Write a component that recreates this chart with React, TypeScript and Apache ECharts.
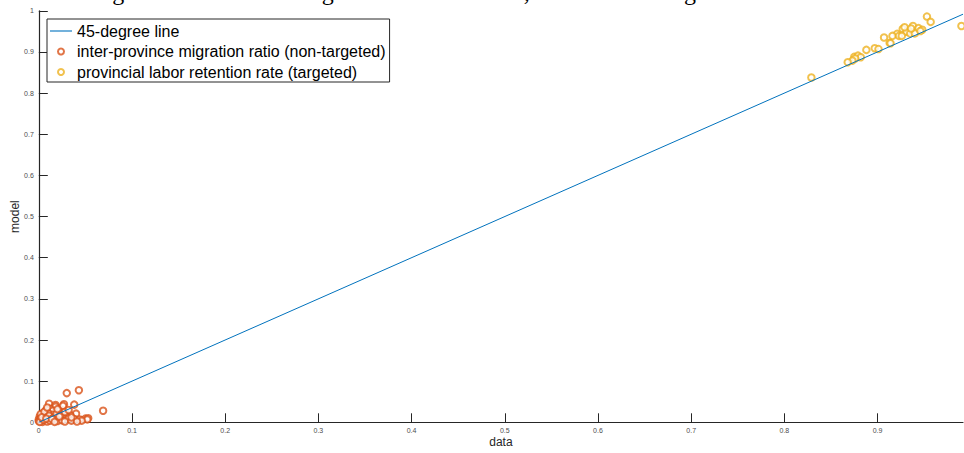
import React, { useEffect, useRef } from "react";
import * as echarts from "echarts";

const titleText = "Testing the model on the targeted moments it fits, as well as untargeted moments";
const xTicks = [0, 0.1, 0.2, 0.3, 0.4, 0.5, 0.6, 0.7, 0.8, 0.9];
const yTicks = [0, 0.1, 0.2, 0.3, 0.4, 0.5, 0.6, 0.7, 0.8, 0.9, 1];
const axisMax = 0.9917;

const lineName = "45-degree line";
const nonTargetedName = "inter-province migration ratio (non-targeted)";
const targetedName = "provincial labor retention rate (targeted)";

const lineData: number[][] = [
  [0, 0],
  [0.9917, 0.9917],
];

const nonTargeted: number[][] = [
  [0.030, 0.071], [0.043, 0.078], [0.011, 0.045], [0.018, 0.042], [0.018, 0.038],
  [0.027, 0.044], [0.026, 0.040], [0.038, 0.043], [0.069, 0.028], [0.012, 0.033],
  [0.008, 0.030], [0.015, 0.028], [0.021, 0.028], [0.005, 0.023], [0.004, 0.018],
  [0.001, 0.014], [0.000, 0.007], [0.000, 0.003], [0.040, 0.021], [0.034, 0.017],
  [0.030, 0.014], [0.026, 0.012], [0.022, 0.009], [0.032, 0.009], [0.038, 0.008],
  [0.044, 0.007], [0.050, 0.009], [0.053, 0.010], [0.016, 0.006], [0.010, 0.007],
  [0.006, 0.010], [0.003, 0.004], [0.018, 0.015], [0.014, 0.018], [0.008, 0.018],
  [0.052, 0.007], [0.046, 0.004], [0.010, 0.022], [0.013, 0.012], [0.007, 0.013],
  [0.002, 0.009], [0.004, 0.001], [0.009, 0.002], [0.012, 0.004], [0.020, 0.003],
  [0.025, 0.005], [0.028, 0.002], [0.035, 0.004], [0.041, 0.002], [0.002, 0.020],
  [0.006, 0.026], [0.011, 0.016], [0.016, 0.011], [0.019, 0.021], [0.024, 0.019],
  [0.028, 0.025], [0.001, 0.001], [0.005, 0.006], [0.003, 0.012], [0.008, 0.009],
  [0.014, 0.008], [0.017, 0.001], [0.022, 0.014], [0.032, 0.030], [0.035, 0.012],
  [0.020, 0.032], [0.009, 0.036],
];

const targeted: number[][] = [
  [0.953, 0.986], [0.957, 0.973], [0.990, 0.963], [0.938, 0.963], [0.944, 0.958],
  [0.927, 0.956], [0.948, 0.954], [0.933, 0.951], [0.931, 0.949], [0.921, 0.944],
  [0.916, 0.939], [0.923, 0.939], [0.935, 0.945], [0.940, 0.945], [0.926, 0.939],
  [0.907, 0.935], [0.913, 0.922], [0.914, 0.921], [0.897, 0.909], [0.901, 0.907],
  [0.888, 0.905], [0.875, 0.888], [0.879, 0.891], [0.882, 0.887], [0.876, 0.884],
  [0.873, 0.879], [0.868, 0.875], [0.829, 0.838], [0.946, 0.951], [0.929, 0.960],
  [0.936, 0.957],
];

const axisColor = "#262626";
const labelColor = "#4d4d4d";
const sans = "Liberation Sans, Arial, Helvetica, sans-serif";

export default function App() {
  const ref = useRef<HTMLDivElement>(null);
  useEffect(() => {
    if (!ref.current) return;
    const chart = echarts.init(ref.current, null, { renderer: "svg" });
    chart.setOption({
      animation: false,
      backgroundColor: "#ffffff",
      textStyle: { fontFamily: sans },
      grid: {
        left: 38.8,
        right: 1,
        top: 10.8,
        bottom: 30.7,
        containLabel: false,
        outerBoundsMode: "none",
      },
      graphic: [
        {
          type: "text",
          x: 54,
          y: 4,
          silent: true,
          z: 0,
          style: {
            text: titleText,
            font: "24px 'Liberation Serif', 'Times New Roman', serif",
            fill: "#000000",
            verticalAlign: "bottom",
          },
        },
      ],
      legend: {
        orient: "vertical",
        left: 47,
        top: 19,
        padding: [4, 4, 2, 3],
        itemWidth: 22,
        itemHeight: 6,
        itemGap: 4.5,
        borderColor: axisColor,
        borderWidth: 1,
        backgroundColor: "#ffffff",
        textStyle: { fontSize: 16, color: "#000000", fontFamily: sans },
        data: [
          { name: lineName, icon: "path://M0 0H100V5H0Z" },
          { name: nonTargetedName, icon: "emptyCircle", itemStyle: { borderWidth: 0.8 } },
          { name: targetedName, icon: "emptyCircle", itemStyle: { borderWidth: 0.8 } },
        ],
      },
      xAxis: {
        type: "value",
        min: 0,
        max: axisMax,
        interval: 0.1,
        name: "data",
        nameLocation: "middle",
        nameGap: 14,
        nameMoveOverlap: false,
        nameTextStyle: { fontSize: 12, color: axisColor, fontFamily: sans },
        axisLine: { show: true, lineStyle: { color: axisColor, width: 1.2 } },
        axisTick: {
          show: true,
          inside: true,
          length: 9,
          customValues: xTicks,
          lineStyle: { color: axisColor, width: 1 },
        },
        axisLabel: {
          customValues: xTicks,
          fontSize: 7,
          color: labelColor,
          margin: 5,
          formatter: (v: number) => String(Math.round(v * 10) / 10),
        },
        splitLine: { show: false },
      },
      yAxis: {
        type: "value",
        min: 0,
        max: 1,
        interval: 0.1,
        name: "model",
        nameLocation: "middle",
        nameGap: 18,
        nameMoveOverlap: false,
        nameTextStyle: { fontSize: 12, color: axisColor, fontFamily: sans },
        axisLine: { show: true, lineStyle: { color: axisColor, width: 1.2 } },
        axisTick: {
          show: true,
          inside: true,
          length: 9,
          customValues: yTicks,
          lineStyle: { color: axisColor, width: 1 },
        },
        axisLabel: {
          customValues: yTicks,
          fontSize: 7,
          color: labelColor,
          margin: 5,
          formatter: (v: number) => String(Math.round(v * 10) / 10),
        },
        splitLine: { show: false },
      },
      series: [
        {
          name: lineName,
          type: "line",
          data: lineData,
          symbol: "none",
          lineStyle: { color: "#0072BD", width: 1 },
          itemStyle: { color: "#0072BD" },
          z: 3,
        },
        {
          name: nonTargetedName,
          type: "scatter",
          data: nonTargeted,
          symbol: "emptyCircle",
          symbolSize: 6.5,
          itemStyle: { color: "#D95319", borderColor: "#D95319", borderWidth: 0.7 },
          z: 2,
        },
        {
          name: targetedName,
          type: "scatter",
          data: targeted,
          symbol: "emptyCircle",
          symbolSize: 6.5,
          itemStyle: { color: "#EDB120", borderColor: "#EDB120", borderWidth: 0.7 },
          z: 2,
        },
      ],
    });
    return () => chart.dispose();
  }, []);
  return (
    <div
      ref={ref}
      style={{ position: "absolute", left: 0, top: 0, width: 964, height: 453 }}
    />
  );
}
